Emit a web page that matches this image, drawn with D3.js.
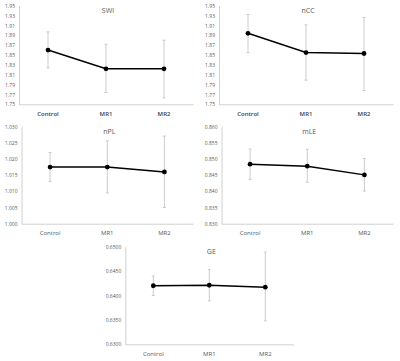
<!DOCTYPE html>
<html>
<head>
<meta charset="utf-8">
<script src="https://cdn.jsdelivr.net/npm/d3@7"></script>
<style>
  body { margin: 0; background: #fff; }
  text { font-family: "Open Sans", "Liberation Sans", sans-serif; }
</style>
</head>
<body>
<div id="chart"></div>
<script>
// ---------- data ----------
const categories = ["Control", "MR1", "MR2"];

const swiMean = [1.860, 1.822, 1.822];
const swiHigh = [1.897, 1.872, 1.880];
const swiLow  = [1.824, 1.774, 1.763];
const swiTicks = [1.75, 1.77, 1.79, 1.81, 1.83, 1.85, 1.87, 1.89, 1.91, 1.93, 1.95];

const nccMean = [1.894, 1.855, 1.853];
const nccHigh = [1.932, 1.911, 1.926];
const nccLow  = [1.855, 1.799, 1.778];
const nccTicks = swiTicks;

const nplMean = [1.0175, 1.0175, 1.0160];
const nplHigh = [1.0220, 1.0256, 1.0271];
const nplLow  = [1.0130, 1.0095, 1.0050];
const nplTicks = [1.000, 1.005, 1.010, 1.015, 1.020, 1.025, 1.030];

const mleMean = [0.8484, 0.8478, 0.8451];
const mleHigh = [0.8531, 0.8530, 0.8502];
const mleLow  = [0.8437, 0.8428, 0.8401];
const mleTicks = [0.830, 0.835, 0.840, 0.845, 0.850, 0.855, 0.860];

const geMean = [0.6420, 0.6421, 0.6417];
const geHigh = [0.6440, 0.6453, 0.6489];
const geLow  = [0.6400, 0.6389, 0.6348];
const geTicks = [0.6300, 0.6350, 0.6400, 0.6450, 0.6500];

// ---------- layout ----------
const W = 400, H = 361;

const panels = [
  {title: "SWI", mean: swiMean, hi: swiHigh, lo: swiLow, ticks: swiTicks, fmt: ".2f",
   x0: 19, x1: 193, yTop: 5.7, yBot: 104.3, bold: true},
  {title: "nCC", mean: nccMean, hi: nccHigh, lo: nccLow, ticks: nccTicks, fmt: ".2f",
   x0: 219, x1: 393, yTop: 5.7, yBot: 104.3, bold: true},
  {title: "nPL", mean: nplMean, hi: nplHigh, lo: nplLow, ticks: nplTicks, fmt: ".3f",
   x0: 21.5, x1: 193, yTop: 126.7, yBot: 223.7, bold: false},
  {title: "mLE", mean: mleMean, hi: mleHigh, lo: mleLow, ticks: mleTicks, fmt: ".3f",
   x0: 221.5, x1: 393, yTop: 126.7, yBot: 223.7, bold: false},
  {title: "GE", mean: geMean, hi: geHigh, lo: geLow, ticks: geTicks, fmt: ".4f",
   x0: 125.3, x1: 293.3, yTop: 246.7, yBot: 344.3, bold: false}
];

const svg = d3.select("#chart")
  .append("svg")
    .attr("width", W)
    .attr("height", H);

panels.forEach(p => {
  const ext = d3.extent(p.ticks);
  const y = d3.scaleLinear().domain(ext).range([p.yBot, p.yTop]);
  const x = d3.scaleBand().domain(categories).range([p.x0, p.x1]);

  const g = svg.append("g");

  // y axis
  const yAxis = g.append("g")
    .attr("transform", `translate(${p.x0},0)`)
    .call(d3.axisLeft(y).tickValues(p.ticks).tickFormat(d3.format(p.fmt)).tickSize(0).tickPadding(4));
  yAxis.select(".domain").attr("stroke", "#d0d0d0").attr("stroke-width", 1);
  yAxis.selectAll("text")
    .attr("fill", "#595959")
    .style("font-size", "5px");

  // x axis
  const xAxis = g.append("g")
    .attr("transform", `translate(0,${p.yBot})`)
    .call(d3.axisBottom(x).tickSize(0).tickPadding(7));
  xAxis.select(".domain").attr("stroke", "#d0d0d0").attr("stroke-width", 1);
  xAxis.selectAll("text")
    .attr("fill", p.bold ? "#404040" : "#595959")
    .style("font-size", "6px")
    .style("font-weight", p.bold ? 600 : 400);

  // title
  g.append("text")
    .attr("x", (p.x0 + p.x1) / 2 + 2)
    .attr("y", p.yTop + 7)
    .attr("text-anchor", "middle")
    .attr("fill", "#595959")
    .style("font-size", "7px")
    .text(p.title);

  const cx = d => x(d) + x.bandwidth() / 2;

  // error bars
  const eb = g.append("g").attr("stroke", "#bfbfbf").attr("stroke-width", 0.8);
  categories.forEach((c, i) => {
    eb.append("line")
      .attr("x1", cx(c)).attr("x2", cx(c))
      .attr("y1", y(p.hi[i])).attr("y2", y(p.lo[i]));
    [p.hi[i], p.lo[i]].forEach(v => {
      eb.append("line")
        .attr("x1", cx(c) - 1.5).attr("x2", cx(c) + 1.5)
        .attr("y1", y(v)).attr("y2", y(v));
    });
  });

  // line
  const line = d3.line()
    .x((d, i) => cx(categories[i]))
    .y(d => y(d));
  g.append("path")
    .datum(p.mean)
    .attr("fill", "none")
    .attr("stroke", "#000")
    .attr("stroke-width", 1.5)
    .attr("d", line);

  // markers
  g.selectAll("circle.pt")
    .data(p.mean)
    .join("circle")
      .attr("class", "pt")
      .attr("cx", (d, i) => cx(categories[i]))
      .attr("cy", d => y(d))
      .attr("r", 2.4)
      .attr("fill", "#000");
});
</script>
</body>
</html>
